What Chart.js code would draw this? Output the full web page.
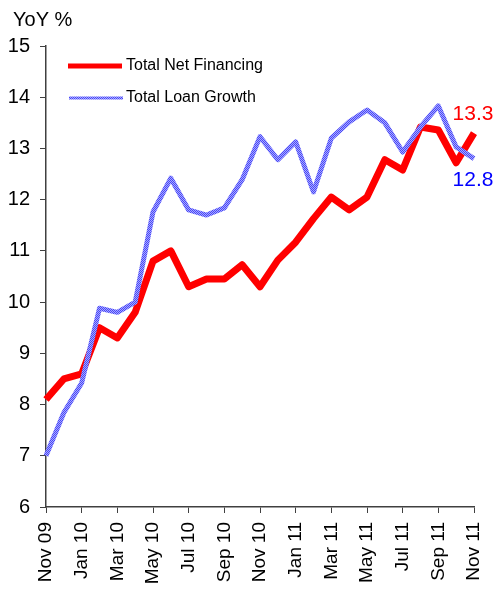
<!DOCTYPE html>
<html>
<head>
<meta charset="utf-8">
<script src="https://cdn.jsdelivr.net/npm/chart.js@4/dist/chart.umd.min.js"></script>
<style>
  html, body { margin: 0; padding: 0; background: #fff; }
  #wrap { width: 496px; height: 591px; position: relative; }
</style>
</head>
<body>
<div id="wrap"><canvas id="yoyChart" width="496" height="591"></canvas></div>
<script>
// months, Nov 09 .. Nov 11
const months = [
  'Nov 09', 'Dec 09', 'Jan 10', 'Feb 10', 'Mar 10', 'Apr 10', 'May 10', 'Jun 10',
  'Jul 10', 'Aug 10', 'Sep 10', 'Oct 10', 'Nov 10', 'Dec 10', 'Jan 11', 'Feb 11',
  'Mar 11', 'Apr 11', 'May 11', 'Jun 11', 'Jul 11', 'Aug 11', 'Sep 11', 'Oct 11', 'Nov 11'
];

// series (YoY %)
const netFinancing = [
  8.1, 8.5, 8.6, 9.5, 9.3, 9.8, 10.8, 11.0, 10.3, 10.45, 10.45, 10.73, 10.3,
  10.82, 11.17, 11.63, 12.05, 11.8, 12.05, 12.78, 12.58, 13.42, 13.36, 12.72, 13.3
];
const loanGrowth = [
  7.0, 7.84, 8.42, 9.88, 9.8, 10.0, 11.76, 12.42, 11.8, 11.7, 11.84, 12.39, 13.23,
  12.78, 13.13, 12.15, 13.2, 13.52, 13.75, 13.5, 12.93, 13.42, 13.83, 13.03, 12.8
];

const yTicks = [6, 7, 8, 9, 10, 11, 12, 13, 14, 15];

const FONT = 'Arial, "Liberation Sans", sans-serif';

// textured blue line
function makePattern() {
  const c = document.createElement('canvas');
  c.width = 2; c.height = 2;
  const g = c.getContext('2d');
  g.fillStyle = '#a8a8ff';
  g.fillRect(0, 0, 2, 2);
  g.fillStyle = '#4848f8';
  g.fillRect(0, 0, 1, 1);
  g.fillRect(1, 1, 1, 1);
  return g.createPattern(c, 'repeat');
}
const bluePattern = makePattern();

// title, legend and end labels
const extras = {
  id: 'extras',
  afterDatasetsDraw(chart) {
    const c = chart.ctx;
    c.save();
    c.textBaseline = 'middle';
    c.textAlign = 'left';
    c.fillStyle = '#000';
    c.font = '20px ' + FONT;
    c.fillText('YoY %', 13, 20);

    // legend
    c.lineCap = 'butt';
    c.strokeStyle = '#ff0000';
    c.lineWidth = 5;
    c.beginPath(); c.moveTo(68, 66); c.lineTo(122, 66); c.stroke();
    c.strokeStyle = bluePattern;
    c.lineWidth = 3;
    c.beginPath(); c.moveTo(69, 98); c.lineTo(123, 98); c.stroke();
    c.fillStyle = '#000';
    c.font = '16px ' + FONT;
    c.fillText('Total Net Financing', 126, 66);
    c.fillText('Total Loan Growth', 126, 98);

    // end values
    const last = months.length - 1;
    const pr = chart.getDatasetMeta(0).data[last];
    const pb = chart.getDatasetMeta(1).data[last];
    c.textAlign = 'center';
    c.font = '21px ' + FONT;
    c.fillStyle = '#ff0000';
    c.fillText(netFinancing[last].toFixed(1), pr.x - 1, pr.y - 19);
    c.fillStyle = '#0000ff';
    c.fillText(loanGrowth[last].toFixed(1), pb.x - 1, pb.y + 22);
    c.restore();
  }
};

const ctx = document.getElementById('yoyChart').getContext('2d');

const yoyChart = new Chart(ctx, {
  type: 'line',
  data: {
    labels: months,
    datasets: [
      {
        label: 'Total Net Financing',
        data: netFinancing,
        borderColor: '#ff0000',
        borderWidth: 7,
        tension: 0,
        pointRadius: 0,
        borderJoinStyle: 'round',
        order: 1
      },
      {
        label: 'Total Loan Growth',
        data: loanGrowth,
        borderColor: bluePattern,
        borderWidth: 5,
        tension: 0,
        pointRadius: 0,
        borderJoinStyle: 'round',
        order: 0
      }
    ]
  },
  options: {
    responsive: false,
    animation: false,
    layout: { padding: { top: 46, right: 22, left: 0, bottom: 0 } },
    scales: {
      x: {
        offset: false,
        grid: { drawOnChartArea: false, tickLength: 6, color: '#404040' },
        border: { color: '#404040', width: 1.5 },
        ticks: {
          autoSkip: false,
          maxRotation: 90,
          minRotation: 90,
          padding: 9,
          color: '#000',
          font: { family: FONT, size: 19 },
          callback: function (val, i) {
            return i % 2 === 0 ? months[i] : null;
          }
        },
        afterFit: (scale) => {
          scale.height = 84;
          scale.paddingLeft = 0;
          scale.paddingRight = 0;
        }
      },
      y: {
        min: 6,
        max: 15,
        afterBuildTicks: (scale) => { scale.ticks = yTicks.map(v => ({ value: v })); },
        grid: { drawOnChartArea: false, tickLength: 6, color: '#404040' },
        border: { color: '#404040', width: 1.5 },
        ticks: {
          padding: 10,
          color: '#000',
          font: { family: FONT, size: 20 }
        },
        afterFit: (scale) => { scale.width = 46; }
      }
    },
    plugins: {
      legend: { display: false },
      tooltip: { enabled: false }
    }
  },
  plugins: [extras]
});
</script>
</body>
</html>
